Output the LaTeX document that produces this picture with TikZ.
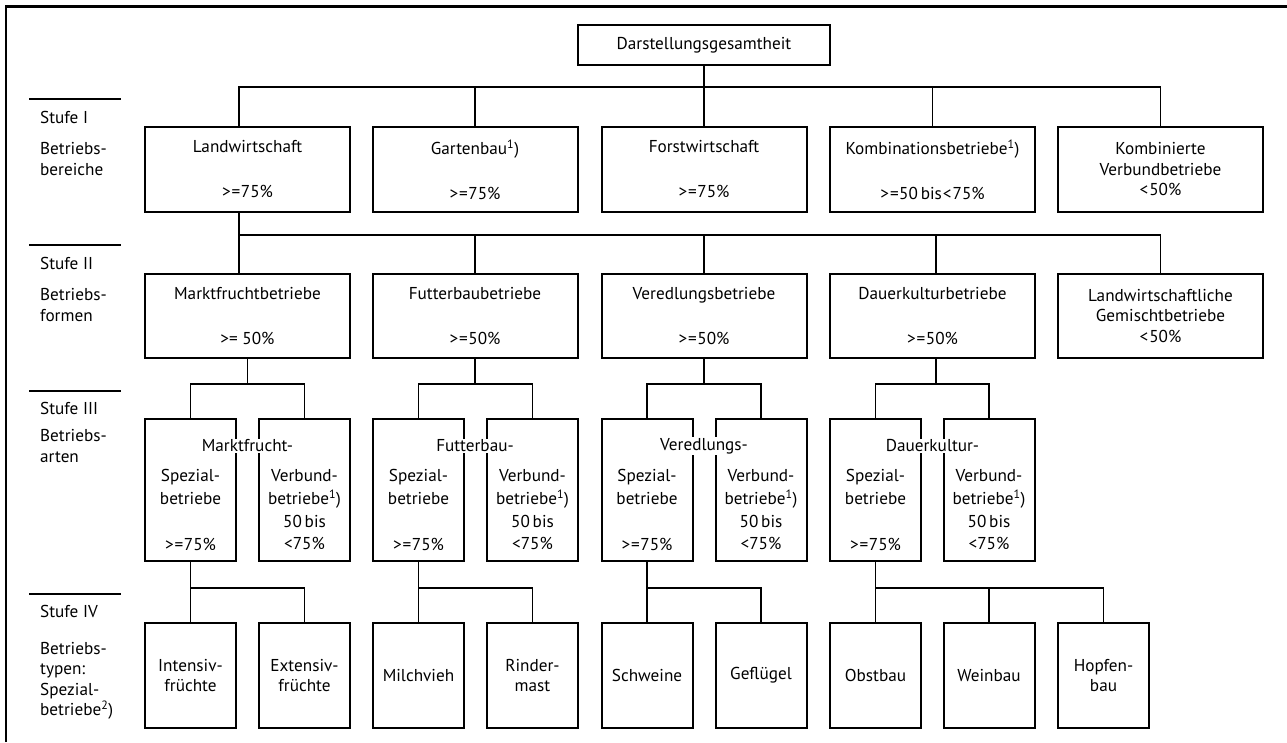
\documentclass[tikz,border=0pt]{standalone}
\usepackage{fontspec}
\setmainfont{PT Sans}
\newcommand\dfont{\fontsize{17.2}{20.5}\selectfont}
\newcommand\dfontb{\fontsize{17.2}{22.7}\selectfont}
\newcommand\geqtxt{>\kern1pt=\kern0.5pt}
\begin{document}
\begin{tikzpicture}[x=1pt,y=-1pt,
  bx/.style={draw, line width=2pt, align=center, inner sep=0pt, font=\dfont},
  lone/.style={bx, minimum width=205pt, minimum height=85pt},
  ltwo/.style={bx, minimum width=205pt, minimum height=84pt},
  lthree/.style={bx, minimum width=91pt, minimum height=142pt},
  lfour/.style={bx, minimum width=91pt, minimum height=105pt},
  txt/.style={align=center, inner sep=0pt, font=\dfontb},
  hd/.style={fill=white, inner sep=1pt, font=\dfont},
  stf/.style={anchor=west, align=left, inner sep=0pt, font=\dfont},
  cn/.style={line width=1.1pt},
  rule/.style={line width=1.8pt}]
\useasboundingbox (0,0) rectangle (1287,742);
% frame
\draw[line width=2.2pt] (6,742) -- (6,6.5) -- (1287,6.5);
% left labels
\draw[rule] (29,99) -- (121,99);
\draw[rule] (29,245) -- (121,245);
\draw[rule] (29,391) -- (121,391);
\draw[rule] (29,594) -- (121,594);
\node[stf] (s1) at (40,117) {Stufe I};
\node[stf] (d1) at (40,159) {Betriebs-\\bereiche};
\node[stf] (s2) at (40,263) {Stufe II};
\node[stf] (d2) at (40,305) {Betriebs-\\formen};
\node[stf] (s3) at (40,408) {Stufe III};
\node[stf] (d3) at (40,446) {Betriebs-\\arten};
\node[stf] (s4) at (40,611) {Stufe IV};
\node[stf] (d4) at (40,681) {Betriebs-\\typen:\\Spezial-\\betriebe\textsuperscript{2})};
% top
\node[bx, minimum width=252pt, minimum height=40pt] (top) at (704,45) {Darstellungsgesamtheit};
% level 1
\node[lone] (lw) at (247.5,169.5) {Landwirtschaft\\[24.5pt]\geqtxt75\%};
\node[lone] (gb) at (475,169.5) {Gartenbau\textsuperscript{1})\\[24.5pt]\geqtxt75\%};
\node[lone] (fw) at (704,169.5) {Forstwirtschaft\\[24.5pt]\geqtxt75\%};
\node[lone] (kb) at (932.5,169.5) {Kombinationsbetriebe\textsuperscript{1})\\[24.5pt]\geqtxt50\,bis\kern1pt<\kern1pt75\%};
\node[lone] (kv) at (1160.5,169.5) {Kombinierte\\Verbundbetriebe\\<\kern1pt50\%};
% level 2
\node[ltwo] (mf) at (247.5,316) {Marktfruchtbetriebe\\[24.5pt]>= 50\%};
\node[ltwo] (ft) at (475,316) {Futterbaubetriebe\\[24.5pt]\geqtxt50\%};
\node[ltwo] (vd) at (704,316) {Veredlungsbetriebe\\[24.5pt]\geqtxt50\%};
\node[ltwo] (dk) at (932.5,316) {Dauerkulturbetriebe\\[24.5pt]\geqtxt50\%};
\node[ltwo] (gm) at (1160.5,316) {Landwirtschaftliche\\Gemischtbetriebe\\<\kern1pt50\%};
% level 3
\node[lthree] (ms) at (190.5,490) {};
\node[lthree] (mv) at (304.5,490) {};
\node[lthree] (fs) at (418.5,490) {};
\node[lthree] (fv) at (532.5,490) {};
\node[lthree] (vs) at (647,490) {};
\node[lthree] (vv) at (761,490) {};
\node[lthree] (ds) at (875.5,490) {};
\node[lthree] (dv) at (989,490) {};
\node[hd] (hm) at (247.5,446) {Marktfrucht-};
\node[hd] (hf) at (475,446) {Futterbau-};
\node[hd] (hv) at (704,446) {Veredlungs-};
\node[hd] (hdk) at (932.5,446) {Dauerkultur-};
\node[txt] (tms) at (190.5,510) {Spezial-\\betriebe\\[23.3pt]\geqtxt75\%};
\node[txt] (tmv) at (304.5,510) {Verbund-\\betriebe\textsuperscript{1})\\50\,bis\\<75\%};
\node[txt] (tfs) at (418.5,510) {Spezial-\\betriebe\\[23.3pt]\geqtxt75\%};
\node[txt] (tfv) at (532.5,510) {Verbund-\\betriebe\textsuperscript{1})\\50\,bis\\<75\%};
\node[txt] (tvs) at (647,510) {Spezial-\\betriebe\\[23.3pt]\geqtxt75\%};
\node[txt] (tvv) at (761,510) {Verbund-\\betriebe\textsuperscript{1})\\50\,bis\\<75\%};
\node[txt] (tds) at (875.5,510) {Spezial-\\betriebe\\[23.3pt]\geqtxt75\%};
\node[txt] (tdv) at (989,510) {Verbund-\\betriebe\textsuperscript{1})\\50\,bis\\<75\%};
% level 4
\node[lfour] (in) at (190.5,675.5) {Intensiv-\\früchte};
\node[lfour] (ex) at (304.5,675.5) {Extensiv-\\früchte};
\node[lfour] (mi) at (418.5,675.5) {Milchvieh};
\node[lfour] (ri) at (532.5,675.5) {Rinder-\\mast};
\node[lfour] (sw) at (647,675.5) {Schweine};
\node[lfour] (gf) at (761,675.5) {Geflügel};
\node[lfour] (ob) at (875.5,675.5) {Obstbau};
\node[lfour] (wb) at (989,675.5) {Weinbau};
\node[lfour] (hp) at (1103.5,675.5) {Hopfen-\\bau};
% bus coordinates
\coordinate (b1) at (0,87);
\coordinate (b2) at (0,235);
\coordinate (b3) at (0,384);
\coordinate (b4) at (0,588);
\coordinate (lwn) at ([xshift=-8.5pt]lw.north);
\coordinate (lws) at ([xshift=-8.5pt]lw.south);
\coordinate (mfn) at ([xshift=-8.5pt]mf.north);
% connectors level 0 -> 1
\draw[cn] (top.south) -- (top.south |- b1);
\draw[cn] (lwn) |- (kv.north |- b1) -- (kv.north);
\draw[cn] (gb.north) -- (gb.north |- b1);
\draw[cn] (fw.north) -- (fw.north |- b1);
\draw[cn] (kb.north) -- (kb.north |- b1);
% level 1 -> 2
\draw[cn] (lws) -- (mfn);
\draw[cn] (lws |- b2) -- (gm.north |- b2) -- (gm.north);
\draw[cn] (ft.north |- b2) -- (ft.north);
\draw[cn] (vd.north |- b2) -- (vd.north);
\draw[cn] ([xshift=3.5pt]dk.north |- b2) -- ([xshift=3.5pt]dk.north);
% level 2 -> 3
\draw[cn] (mf.south) -- (mf.south |- b3);
\draw[cn] (ms.north) |- (mv.north |- b3) -- (mv.north);
\draw[cn] (ft.south) -- (ft.south |- b3);
\draw[cn] (fs.north) |- (fv.north |- b3) -- (fv.north);
\draw[cn] (vd.south) -- (vd.south |- b3);
\draw[cn] (vs.north) |- (vv.north |- b3) -- (vv.north);
\draw[cn] ([xshift=3.5pt]dk.south) -- ([xshift=3.5pt]dk.south |- b3);
\draw[cn] (ds.north) |- (dv.north |- b3) -- (dv.north);
% level 3 -> 4
\draw[cn] (ms.south) -- (in.north);
\draw[cn] (in.north |- b4) -| (ex.north);
\draw[cn] (fs.south) -- (mi.north);
\draw[cn] (mi.north |- b4) -| (ri.north);
\draw[cn] (vs.south) -- (sw.north);
\draw[cn] (sw.north |- b4) -| (gf.north);
\draw[cn] (ds.south) -- (ob.north);
\draw[cn] (ob.north |- b4) -| (hp.north);
\draw[cn] (wb.north |- b4) -- (wb.north);
\end{tikzpicture}
\end{document}
